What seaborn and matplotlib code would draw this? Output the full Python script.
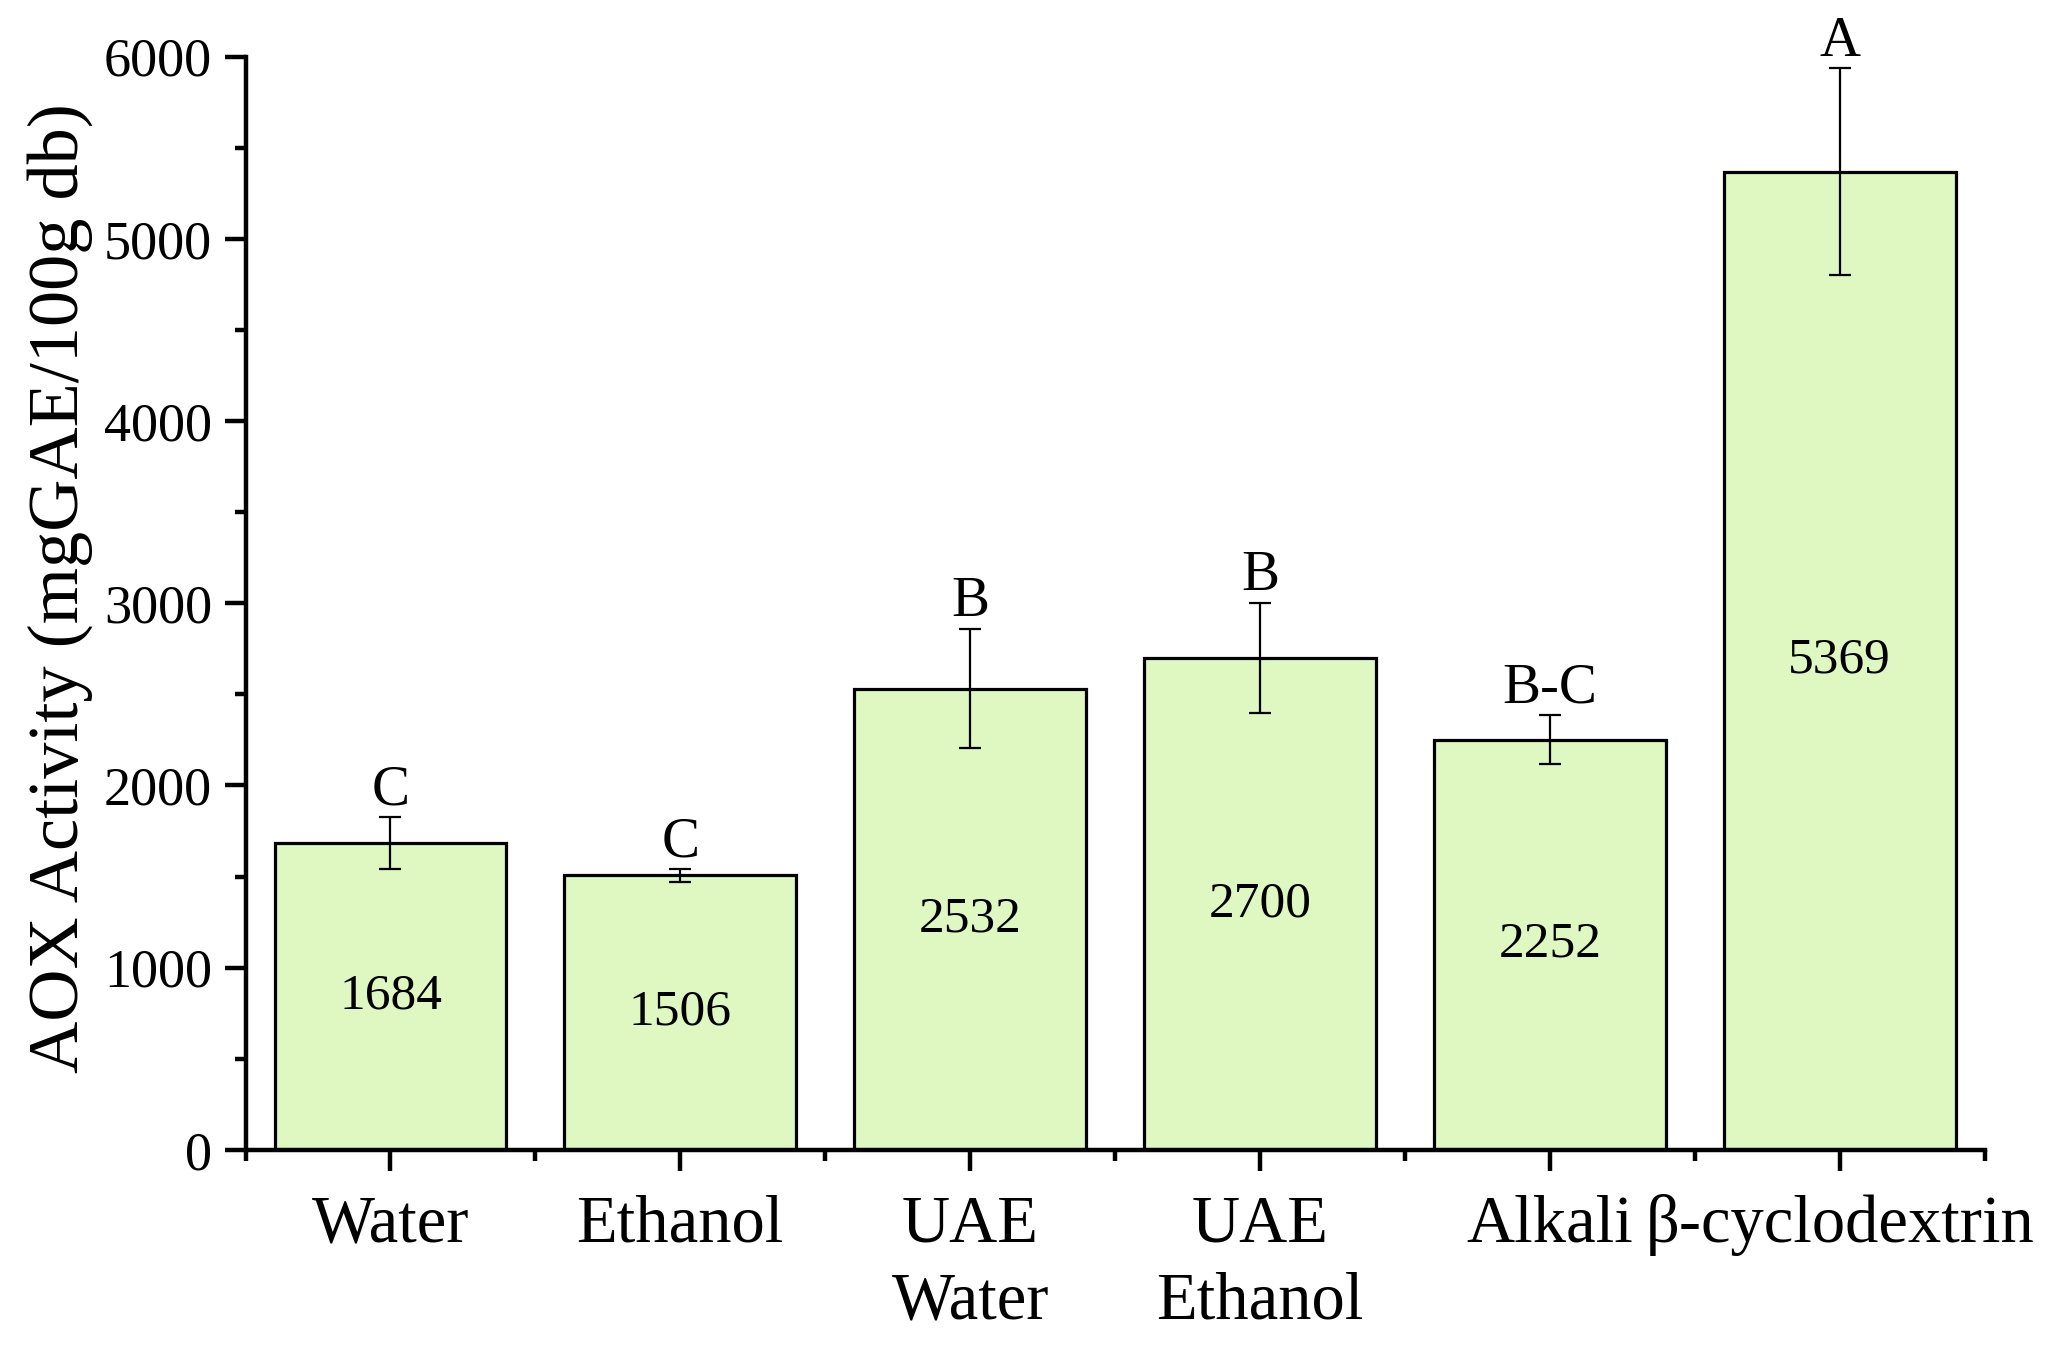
import matplotlib
matplotlib.use('Agg')
from matplotlib import pyplot as plt
from matplotlib.ticker import MultipleLocator, FixedLocator
import seaborn as sns
import numpy as np

# Data
categories = ['Water', 'Ethanol', 'UAE\nWater', 'UAE\nEthanol', 'Alkali', 'β-cyclodextrin']
means = [1684, 1506, 2532, 2700, 2252, 5369]
errors = [143, 35, 326, 304, 132, 566]
letters = ['C', 'C', 'B', 'B', 'B-C', 'A']

sns.set_style('ticks')
plt.rcParams['font.family'] = ['Liberation Serif', 'DejaVu Serif']
plt.rcParams.update({
    'text.color': 'black', 'axes.labelcolor': 'black', 'axes.edgecolor': 'black',
    'xtick.color': 'black', 'ytick.color': 'black',
})

fig = plt.figure(figsize=(20.46, 13.48), dpi=100)
ax = fig.add_axes([0.120, 0.147, 0.850, 0.811])

sns.barplot(x=categories, y=means, color='#DFF7C1', saturation=1, width=0.8,
            edgecolor='black', linewidth=2.3, errorbar=None, ax=ax)
xpos = np.arange(len(categories))
ax.errorbar(xpos, means, yerr=errors, fmt='none', ecolor='black',
            elinewidth=1.6, capsize=8, capthick=1.6, zorder=5)

for x, m, e, lab in zip(xpos, means, errors, letters):
    ax.annotate(lab, (x, m + e), xytext=(0, 0.5), textcoords='offset points',
                ha='center', va='bottom', fontsize=41)
    ax.text(x, m / 2, str(m), ha='center', va='center', fontsize=37)

ax.set_xlim(-0.5, 5.5)
ax.set_ylim(0, 6000)
ax.yaxis.set_major_locator(MultipleLocator(1000))
ax.yaxis.set_minor_locator(MultipleLocator(500))
ax.xaxis.set_minor_locator(FixedLocator(np.arange(-0.5, 6.0, 1.0)))
for lbl in ax.get_xticklabels():
    lbl.set_linespacing(1.35)

for s in ['top', 'right']:
    ax.spines[s].set_visible(False)
for s in ['left', 'bottom']:
    ax.spines[s].set_linewidth(3.2)

ax.tick_params(axis='y', which='major', length=15, width=3.2, labelsize=39, pad=9)
ax.tick_params(axis='y', which='minor', length=8, width=3.2)
ax.tick_params(axis='x', which='major', length=15, width=3.2, labelsize=48, pad=17)
ax.tick_params(axis='x', which='minor', length=8, width=3.2)

ax.set_xlabel('')
ax.set_ylabel('AOX Activity (mgGAE/100g db)', fontsize=52, labelpad=8)
ax.yaxis.label.set_y(0.514)

fig.savefig('out.png', dpi=100)
